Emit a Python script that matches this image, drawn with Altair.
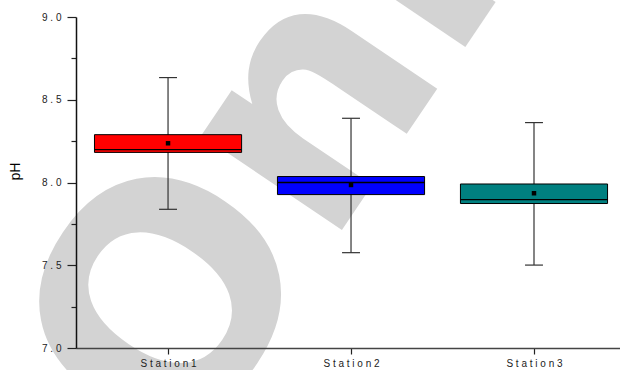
import json
import altair as alt
import pandas as pd

# pH summary statistics per sampling station
stations = ["Station1", "Station2", "Station3"]
whisker_low = [7.838, 7.576, 7.501]
q1 = [8.182, 7.927, 7.873]
median = [8.199, 8.000, 7.897]
q3 = [8.289, 8.036, 7.991]
whisker_high = [8.634, 8.388, 8.362]
mean = [8.237, 7.985, 7.935]

box_colors = ["#FF0000", "#0000FF", "#008080"]

df = pd.DataFrame({
    "station": stations,
    "pos": list(range(1, len(stations) + 1)),
    "lo": whisker_low,
    "q1": q1,
    "med": median,
    "q3": q3,
    "hi": whisker_high,
    "mean": mean,
})

BOX_HALF = 0.402
CAP_HALF = 0.049
FONT = "Liberation Sans"

station_js = json.dumps(stations)

x_scale = alt.Scale(domain=[0.497, 3.470], nice=False, zero=False)
y_scale = alt.Scale(domain=[7.0, 9.0], nice=False, zero=False)

x_axis = alt.Axis(
    values=[1, 2, 3],
    labelExpr=f"join(split({station_js}[datum.value - 1], ''), ' ')",
    title=None,
    grid=False,
    domainColor="#444444",
    domainWidth=1.6,
    tickColor="#222222",
    tickSize=6,
    tickWidth=1.2,
    labelFont=FONT,
    labelFontSize=10,
    labelColor="#222222",
    labelPadding=4,
    zindex=1,
)

y_axis = alt.Axis(
    values=[7.0, 7.25, 7.5, 7.75, 8.0, 8.25, 8.5, 8.75, 9.0],
    labelExpr="datum.value % 0.5 ? '' : join(split(format(datum.value, '.1f'), ''), ' ')",
    tickSize={"condition": {"test": "datum.value % 0.5 != 0", "value": 5}, "value": 9},
    title="pH",
    titleFont=FONT,
    titleFontSize=14,
    titleFontWeight="normal",
    titleColor="#000000",
    titleAngle=270,
    titleAlign="center",
    titleBaseline="alphabetic",
    titleX=-57,
    titleY=154,
    grid=False,
    domainColor="#111111",
    domainWidth=1.5,
    tickColor="#222222",
    tickWidth=1.2,
    labelFont=FONT,
    labelFontSize=10,
    labelColor="#222222",
    labelPadding=6,
    zindex=1,
)

base = alt.Chart(df)

# faint diagonal background lettering
backdrop = alt.Chart(pd.DataFrame({"t": ["Only"]})).mark_text(
    font="DejaVu Sans",
    fontWeight="bold",
    fontSize=310,
    color="#d3d3d3",
    align="left",
    baseline="alphabetic",
    angle=304,
).encode(x=alt.value(104), y=alt.value(453), text="t:N")

whisker = base.mark_rule(color="#333333", strokeWidth=1.2).encode(
    x=alt.X("pos:Q", scale=x_scale, axis=x_axis),
    y=alt.Y("lo:Q", scale=y_scale, axis=y_axis),
    y2="hi:Q",
)

caps_hi = base.transform_calculate(
    c0=f"datum.pos - {CAP_HALF}", c1=f"datum.pos + {CAP_HALF}"
).mark_rule(color="#333333", strokeWidth=1.2).encode(
    x=alt.X("c0:Q", scale=x_scale, axis=x_axis),
    x2="c1:Q",
    y=alt.Y("hi:Q", scale=y_scale, axis=y_axis),
)

caps_lo = base.transform_calculate(
    c0=f"datum.pos - {CAP_HALF}", c1=f"datum.pos + {CAP_HALF}"
).mark_rule(color="#333333", strokeWidth=1.2).encode(
    x=alt.X("c0:Q", scale=x_scale, axis=x_axis),
    x2="c1:Q",
    y=alt.Y("lo:Q", scale=y_scale, axis=y_axis),
)

boxes = base.transform_calculate(
    b0=f"datum.pos - {BOX_HALF}", b1=f"datum.pos + {BOX_HALF}"
).mark_rect(stroke="#000000", strokeWidth=1).encode(
    x=alt.X("b0:Q", scale=x_scale, axis=x_axis),
    x2="b1:Q",
    y=alt.Y("q1:Q", scale=y_scale, axis=y_axis),
    y2="q3:Q",
    fill=alt.Fill("station:N", scale=alt.Scale(domain=stations, range=box_colors), legend=None),
)

medians = base.transform_calculate(
    b0=f"datum.pos - {BOX_HALF}", b1=f"datum.pos + {BOX_HALF}"
).mark_rule(color="#000000", strokeWidth=1.3).encode(
    x=alt.X("b0:Q", scale=x_scale, axis=x_axis),
    x2="b1:Q",
    y=alt.Y("med:Q", scale=y_scale, axis=y_axis),
)

means = base.mark_square(color="#000000", size=20, opacity=1).encode(
    x=alt.X("pos:Q", scale=x_scale, axis=x_axis),
    y=alt.Y("mean:Q", scale=y_scale, axis=y_axis),
)

chart = alt.layer(
    backdrop, whisker, caps_hi, caps_lo, boxes, medians, means
).properties(
    width=544,
    height=331,
    autosize=alt.AutoSizeParams(type="none"),
    padding={"left": 76, "top": 17, "right": 0, "bottom": 22},
    background="#ffffff",
).configure_view(stroke=None)

chart.save("out.html", embed_options={"renderer": "svg", "actions": False})
